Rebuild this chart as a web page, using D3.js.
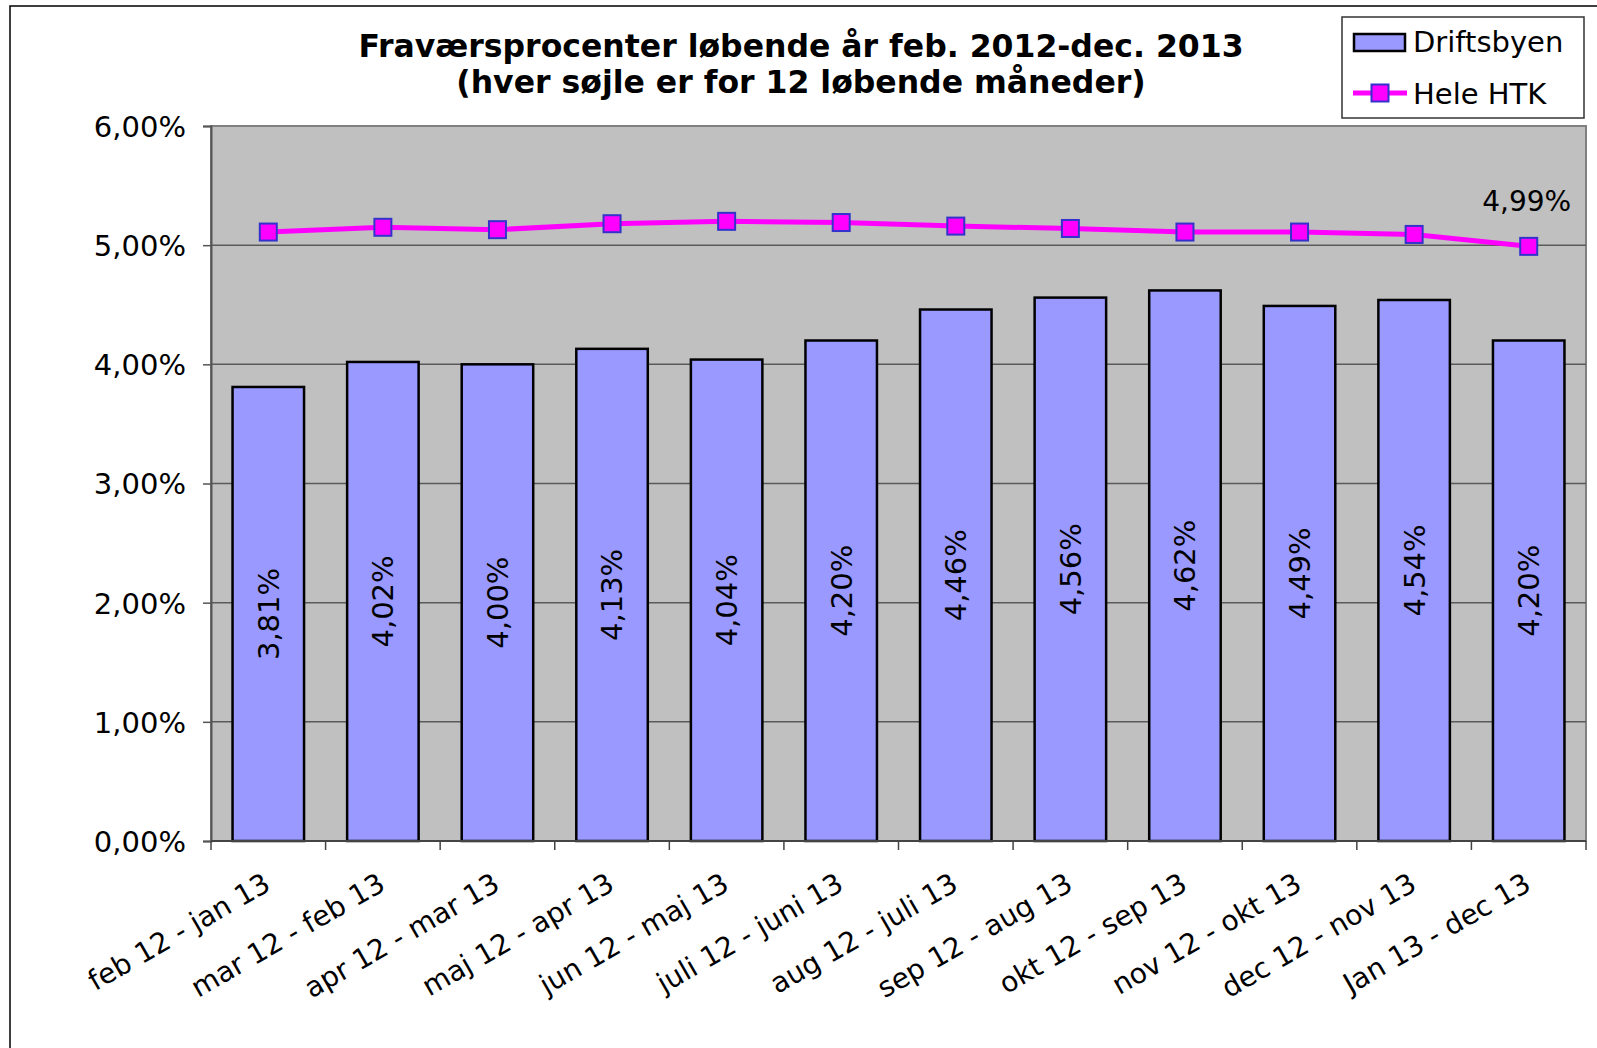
<!DOCTYPE html>
<html>
<head>
<meta charset="utf-8">
<script src="https://cdn.jsdelivr.net/npm/d3@7/dist/d3.min.js"></script>
<style>
  body { margin: 0; background: #fff; }
  svg text { font-family: "DejaVu Sans", Verdana, sans-serif; fill: #000; }
</style>
</head>
<body>
<div id="chart"></div>
<script>
// categories (12 rolling months)
const periods = [
    "feb 12 - jan 13", "mar 12 - feb 13", "apr 12 - mar 13", "maj 12 - apr 13",
    "jun 12 - maj 13", "juli 12 - juni 13", "aug 12 - juli 13", "sep 12 - aug 13",
    "okt 12 - sep 13", "nov 12 - okt 13", "dec 12 - nov 13", "Jan 13 - dec 13"
];

// bar series, Driftsbyen (percent)
const driftsbyen = [3.81, 4.02, 4.00, 4.13, 4.04, 4.20, 4.46, 4.56, 4.62, 4.49, 4.54, 4.20];

// line series, Hele HTK (percent)
const heleHTK = [5.11, 5.15, 5.13, 5.18, 5.20, 5.19, 5.16, 5.14, 5.11, 5.11, 5.09, 4.99];

// y axis ticks
const yTicks = [0, 1, 2, 3, 4, 5, 6];

const titleLines = [
    "Fraværsprocenter løbende år feb. 2012-dec. 2013",
    "(hver søjle er for 12 løbende måneder)"
];

const seriesNames = ["Driftsbyen", "Hele HTK"];

// size of page and plot area
const width = 1597;
const height = 1048;
const plot = { left: 211, right: 1586, top: 126, bottom: 841 };

const fmt = v => d3.format(".2f")(v).replace(".", ",") + "%";

const svg = d3.select("#chart")
.append("svg")
.attr("width", width)
.attr("height", height);

// outer chart border (cut off at right and bottom)
svg.append("rect")
.attr("x", 10)
.attr("y", 6)
.attr("width", width)
.attr("height", height)
.attr("fill", "#fff")
.attr("stroke", "#000")
.attr("stroke-width", 1.5);

// scales
const x = d3.scaleBand()
.domain(periods)
.range([plot.left, plot.right])
.paddingInner(0.376)
.paddingOuter(0.188);

const y = d3.scaleLinear()
.domain([0, 6])
.range([plot.bottom, plot.top]);

// plot background
svg.append("rect")
.attr("x", plot.left)
.attr("y", plot.top)
.attr("width", plot.right - plot.left)
.attr("height", plot.bottom - plot.top)
.attr("fill", "#c0c0c0")
.attr("stroke", "#808080")
.attr("stroke-width", 2);

// gridlines
svg.append("g")
.selectAll("line")
.data(yTicks.slice(1, -1))
.enter()
.append("line")
.attr("x1", plot.left)
.attr("x2", plot.right)
.attr("y1", d => y(d))
.attr("y2", d => y(d))
.attr("stroke", "#5a5a5a")
.attr("stroke-width", 1.5);

// y axis
const yAxis = d3.axisLeft(y)
.tickValues(yTicks)
.tickSize(8)
.tickPadding(17)
.tickFormat(fmt);

const yG = svg.append("g")
.attr("transform", `translate(${plot.left},0)`)
.call(yAxis);
yG.select(".domain").attr("stroke", "#555").attr("stroke-width", 2);
yG.selectAll(".tick line").attr("stroke", "#555").attr("stroke-width", 1.5);
yG.selectAll(".tick text")
.attr("font-size", 29)
.attr("font-family", "DejaVu Sans")
.attr("dy", "0.36em");

// bars
svg.append("g")
.selectAll("rect")
.data(driftsbyen)
.enter()
.append("rect")
.attr("x", (d, i) => x(periods[i]))
.attr("y", d => y(d))
.attr("width", x.bandwidth())
.attr("height", d => y(0) - y(d))
.attr("fill", "#9999ff")
.attr("stroke", "#000")
.attr("stroke-width", 2.5);

// bar labels, rotated, in middle of bar
svg.append("g")
.selectAll("text")
.data(driftsbyen)
.enter()
.append("text")
.attr("transform", (d, i) => {
    const cx = x(periods[i]) + x.bandwidth() / 2;
    const cy = (y(d) + y(0)) / 2;
    return `translate(${cx},${cy}) rotate(-90)`;
})
.attr("text-anchor", "middle")
.attr("dy", "0.36em")
.attr("font-size", 29)
.text(d => fmt(d));

// x axis line
svg.append("line")
.attr("x1", plot.left)
.attr("x2", plot.right)
.attr("y1", plot.bottom)
.attr("y2", plot.bottom)
.attr("stroke", "#444")
.attr("stroke-width", 2);

// x ticks between categories
const boundaries = d3.range(periods.length + 1).map(i => plot.left + i * x.step());
svg.append("g")
.selectAll("line")
.data(boundaries)
.enter()
.append("line")
.attr("x1", d => d)
.attr("x2", d => d)
.attr("y1", plot.bottom)
.attr("y2", plot.bottom + 9)
.attr("stroke", "#444")
.attr("stroke-width", 1.5);

// category labels, rotated -30
svg.append("g")
.selectAll("text")
.data(periods)
.enter()
.append("text")
.attr("transform", d => `translate(${x(d) + x.bandwidth() / 2 + 4},${plot.bottom + 48}) rotate(-30)`)
.attr("text-anchor", "end")
.attr("font-size", 28)
.text(d => d);

// line series
const line = d3.line()
.x((d, i) => x(periods[i]) + x.bandwidth() / 2)
.y(d => y(d));

svg.append("path")
.datum(heleHTK)
.attr("d", line)
.attr("fill", "none")
.attr("stroke", "#ff00ff")
.attr("stroke-width", 5);

const mk = 17;
svg.append("g")
.selectAll("rect")
.data(heleHTK)
.enter()
.append("rect")
.attr("x", (d, i) => x(periods[i]) + x.bandwidth() / 2 - mk / 2)
.attr("y", d => y(d) - mk / 2)
.attr("width", mk)
.attr("height", mk)
.attr("fill", "#ff00ff")
.attr("stroke", "#3333cc")
.attr("stroke-width", 2);

// label for last point
const last = heleHTK.length - 1;
svg.append("text")
.attr("x", x(periods[last]) + x.bandwidth() / 2 - 2)
.attr("y", y(heleHTK[last]) - 35)
.attr("text-anchor", "middle")
.attr("font-size", 28)
.text(fmt(heleHTK[last]));

// title
svg.append("g")
.selectAll("text")
.data(titleLines)
.enter()
.append("text")
.attr("x", 801)
.attr("y", (d, i) => 57 + i * 36)
.attr("text-anchor", "middle")
.attr("font-size", 31.5)
.attr("font-weight", "bold")
.text(d => d);

// legend
const legend = svg.append("g")
.attr("id", "legend")
.attr("transform", "translate(1342,17)");

legend.append("rect")
.attr("width", 242)
.attr("height", 101)
.attr("fill", "#fff")
.attr("stroke", "#333")
.attr("stroke-width", 1.5);

legend.append("rect")
.attr("x", 12)
.attr("y", 17)
.attr("width", 51)
.attr("height", 17)
.attr("fill", "#9999ff")
.attr("stroke", "#000")
.attr("stroke-width", 2.5);

legend.append("line")
.attr("x1", 11)
.attr("x2", 65)
.attr("y1", 76)
.attr("y2", 76)
.attr("stroke", "#ff00ff")
.attr("stroke-width", 5);

legend.append("rect")
.attr("x", 38 - mk / 2)
.attr("y", 76 - mk / 2)
.attr("width", mk)
.attr("height", mk)
.attr("fill", "#ff00ff")
.attr("stroke", "#3333cc")
.attr("stroke-width", 2);

legend.selectAll("text.name")
.data(seriesNames)
.enter()
.append("text")
.attr("class", "name")
.attr("x", 71)
.attr("y", (d, i) => 35 + i * 52)
.attr("font-size", 29)
.text(d => d);
</script>
</body>
</html>
